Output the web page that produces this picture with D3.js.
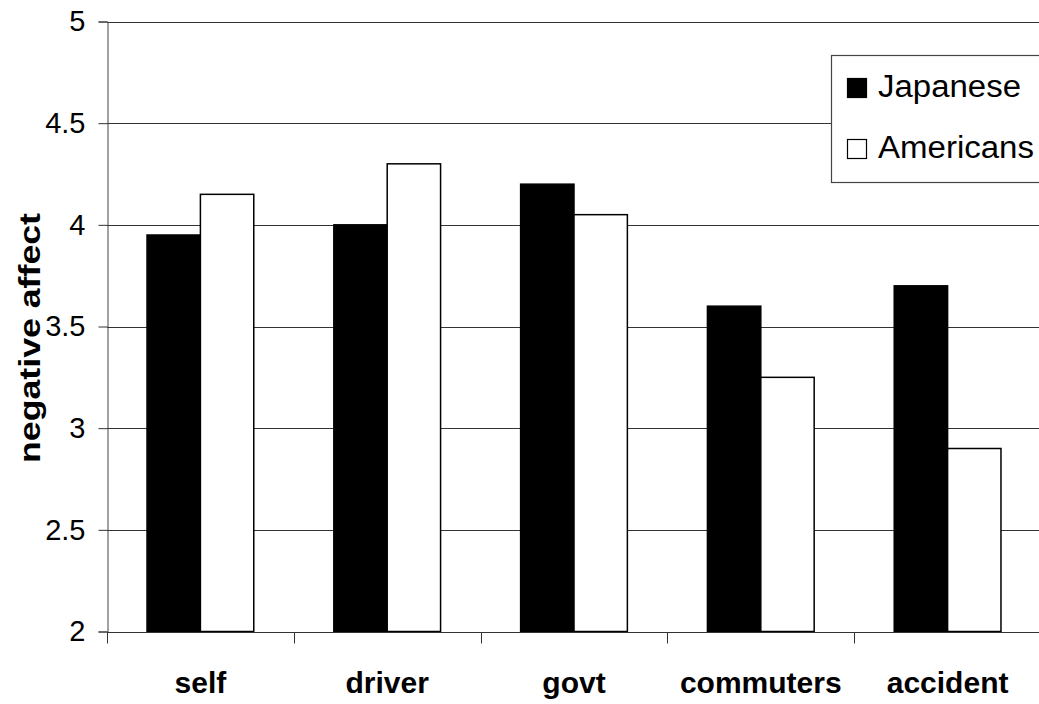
<!DOCTYPE html>
<html>
<head>
<meta charset="utf-8">
<script src="https://cdn.jsdelivr.net/npm/d3@7"></script>
<style>
  body { margin: 0; background: #fff; }
  svg { display: block; font-family: "Liberation Sans", Arial, sans-serif; }
</style>
</head>
<body>
<div id="chart"></div>
<script>
const categories = ["self", "driver", "govt", "commuters", "accident"];
const seriesNames = ["Japanese", "Americans"];
const japanese = [3.95, 4.0, 4.2, 3.6, 3.7];
const americans = [4.15, 4.3, 4.05, 3.25, 2.9];
const yTicks = [2, 2.5, 3, 3.5, 4, 4.5, 5];
const seriesColor = {"Japanese": "#000", "Americans": "#fff"};

const width = 1039, height = 704;
const margin = {top: 21.5, right: -2, bottom: 72.5, left: 107};

const rows = categories.map((c, i) => ({cat: c, Japanese: japanese[i], Americans: americans[i]}));

const svg = d3.select("#chart").append("svg")
    .attr("width", width)
    .attr("height", height);

const x = d3.scaleBand()
    .domain(categories)
    .range([margin.left, width - margin.right])
    .padding(0);

const x1 = d3.scaleBand()
    .domain(seriesNames)
    .range([0, x.bandwidth()])
    .paddingInner(0)
    .paddingOuter(0.75);

const y = d3.scaleLinear()
    .domain([2, 5])
    .range([height - margin.bottom, margin.top]);

// gridlines
svg.append("g")
  .selectAll("line")
  .data(yTicks.filter(d => d > 2))
  .join("line")
    .attr("x1", margin.left)
    .attr("x2", width)
    .attr("y1", d => Math.round(y(d)) + 0.5)
    .attr("y2", d => Math.round(y(d)) + 0.5)
    .attr("stroke", "#333")
    .attr("stroke-width", 1);

// bars
svg.append("g")
  .selectAll("g")
  .data(rows)
  .join("g")
    .attr("transform", d => `translate(${x(d.cat)},0)`)
  .selectAll("rect")
  .data(d => seriesNames.map(s => ({key: s, value: d[s]})))
  .join("rect")
    .attr("x", d => x1(d.key))
    .attr("y", d => y(d.value))
    .attr("width", x1.bandwidth())
    .attr("height", d => y(2) - y(d.value))
    .attr("fill", d => seriesColor[d.key])
    .attr("stroke", "#000")
    .attr("stroke-width", 1.5);

// y axis
const yAxis = svg.append("g")
    .attr("transform", `translate(${margin.left + 0.5},0)`)
    .call(d3.axisLeft(y).tickValues(yTicks).tickFormat(d3.format("")).tickSizeOuter(0).tickSize(9).tickPadding(13));
yAxis.select(".domain").attr("stroke", "#444");
yAxis.selectAll(".tick line").attr("stroke", "#333");
yAxis.selectAll(".tick text")
    .attr("font-size", 29)
    .attr("fill", "#000")
    .attr("font-family", "Liberation Sans, Arial, sans-serif");

// x axis with ticks at category boundaries
const xAxisG = svg.append("g")
    .attr("transform", `translate(0,${Math.round(y(2)) + 0.5})`);
xAxisG.append("line")
    .attr("x1", margin.left)
    .attr("x2", width)
    .attr("stroke", "#333");
xAxisG.selectAll("line.tk")
  .data(categories)
  .join("line")
    .attr("class", "tk")
    .attr("x1", d => Math.round(x(d)) + 0.5)
    .attr("x2", d => Math.round(x(d)) + 0.5)
    .attr("y1", 0)
    .attr("y2", 11)
    .attr("stroke", "#333");
xAxisG.selectAll("text")
  .data(categories)
  .join("text")
    .attr("x", d => x(d) + x.bandwidth() / 2)
    .attr("y", 60)
    .attr("text-anchor", "middle")
    .attr("font-size", 30)
    .attr("font-weight", "bold")
    .text(d => d);

// y axis title
svg.append("text")
    .attr("transform", "rotate(-90)")
    .attr("x", -338)
    .attr("y", 40)
    .attr("text-anchor", "middle")
    .attr("font-size", 29)
    .attr("font-weight", "bold")
    .attr("textLength", 250)
    .attr("lengthAdjust", "spacingAndGlyphs")
    .text("negative affect");

// legend
const legend = svg.append("g").attr("transform", "translate(831,55)");
legend.append("rect")
    .attr("x", 0.5)
    .attr("y", 0.5)
    .attr("width", 260)
    .attr("height", 127)
    .attr("fill", "#fff")
    .attr("stroke", "#444")
    .attr("stroke-width", 1.2);
const item = legend.selectAll("g.item")
  .data(seriesNames)
  .join("g")
    .attr("class", "item")
    .attr("transform", (d, i) => `translate(0,${23 + i * 61})`);
item.append("rect")
    .attr("x", 16.5)
    .attr("y", 0.5)
    .attr("width", 19)
    .attr("height", 19)
    .attr("fill", d => seriesColor[d])
    .attr("stroke", "#000")
    .attr("stroke-width", 1.2);
item.append("text")
    .attr("x", 47)
    .attr("y", 19)
    .attr("font-size", 31)
    .attr("textLength", d => d === "Japanese" ? 143 : 156)
    .attr("lengthAdjust", "spacingAndGlyphs")
    .text(d => d);
</script>
</body>
</html>
